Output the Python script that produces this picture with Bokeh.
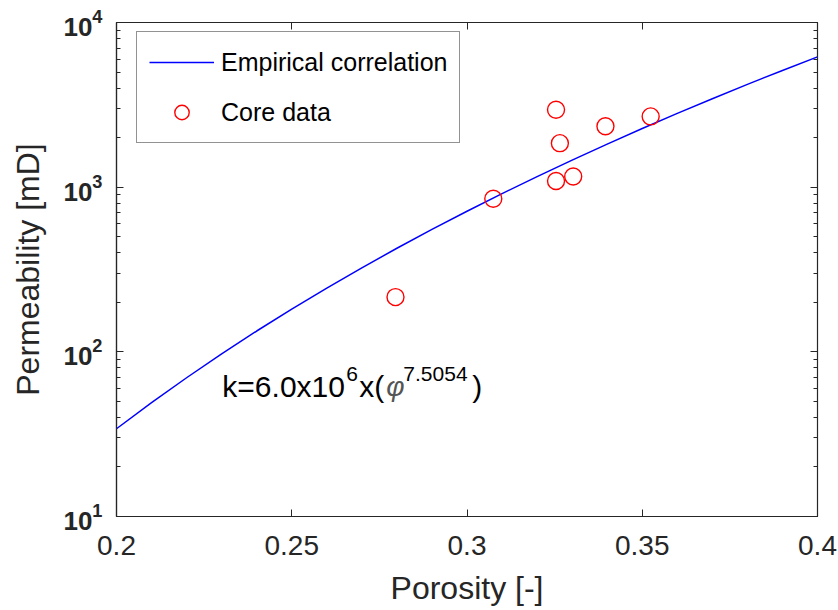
from bokeh.plotting import figure
from bokeh.models import (LinearAxis, LogAxis, FixedTicker, LogTicker, Range1d,
                          Legend, LegendItem, Label, ColumnDataSource, CustomJSTickFormatter)
from bokeh.embed import file_html
from bokeh.resources import INLINE

# Empirical correlation curve
curve_phi = [0.20, 0.21, 0.22, 0.23, 0.24, 0.25, 0.26, 0.27, 0.28, 0.29, 0.30,
             0.31, 0.32, 0.33, 0.34, 0.35, 0.36, 0.37, 0.38, 0.39, 0.40]
curve_k = [34.1, 49.1, 69.6, 97.2, 133.8, 181.7, 243.9, 323.8, 425.5, 553.6, 714.1,
           913.4, 1159, 1460, 1827, 2271, 2806, 3446, 4210, 5116, 6187]

# Core data
core_phi = [0.2796, 0.3075, 0.3254, 0.3265, 0.3254, 0.3303, 0.3395, 0.3524]
core_k = [215, 850, 2950, 1850, 1090, 1160, 2345, 2690]

x_ticks = [0.2, 0.25, 0.3, 0.35, 0.4]
x_tick_labels = ["0.2", "0.25", "0.3", "0.35", "0.4"]

FONT = "Liberation Sans"
TXT = "#262626"

p = figure(width=838, height=610, output_backend="svg", toolbar_location=None,
           x_range=Range1d(0.2, 0.4), y_range=Range1d(10, 10000),
           y_axis_type="log", min_border_left=116, min_border_right=21,
           min_border_top=22, min_border_bottom=94)
p.xgrid.visible = False
p.ygrid.visible = False
p.outline_line_color = TXT
p.outline_line_width = 1.2
p.background_fill_color = "white"
p.border_fill_color = "white"

xa = p.xaxis[0]
xa.ticker = FixedTicker(ticks=x_ticks)
xa.major_label_overrides = {t: l for t, l in zip(x_ticks, x_tick_labels)}
ya = p.yaxis[0]
ya.ticker = LogTicker(num_minor_ticks=10)
for ax in (xa, ya):
    ax.axis_line_color = TXT
    ax.axis_line_width = 1.2
    ax.major_tick_in = 7
    ax.major_tick_out = 0
    ax.minor_tick_in = 4
    ax.minor_tick_out = 0
    ax.major_tick_line_color = TXT
    ax.minor_tick_line_color = TXT
    ax.major_label_text_font = FONT
    ax.major_label_text_color = TXT
    ax.axis_label_text_font = FONT
    ax.axis_label_text_font_style = "normal"
    ax.axis_label_text_color = TXT
    ax.axis_label_text_font_size = "32px"
xa.minor_tick_in = 0
xa.major_label_text_font_size = "28px"
xa.major_label_standoff = 19
xa.axis_label = "Porosity [-]"
xa.axis_label_standoff = 12
ya.major_label_text_font_size = "26px"
ya.major_label_text_font_style = "bold"
ya.major_label_standoff = 14
ya.axis_label = "Permeability [mD]"
ya.axis_label_standoff = 14

# mirrored axes (ticks only, no labels)
blank = CustomJSTickFormatter(code="return ''")
top = LinearAxis(ticker=FixedTicker(ticks=x_ticks), formatter=blank,
                 major_tick_in=7, major_tick_out=0, minor_tick_in=0, minor_tick_out=0,
                 major_label_standoff=0, axis_line_color=TXT, major_tick_line_color=TXT)
right = LogAxis(ticker=LogTicker(num_minor_ticks=10), formatter=blank,
                major_tick_in=7, major_tick_out=0, minor_tick_in=4, minor_tick_out=0,
                major_label_standoff=0, axis_line_color=TXT, major_tick_line_color=TXT,
                minor_tick_line_color=TXT)
p.add_layout(top, "above")
p.add_layout(right, "right")

src_curve = ColumnDataSource(dict(x=curve_phi, y=curve_k))
src_core = ColumnDataSource(dict(x=core_phi, y=core_k))
r_line = p.line("x", "y", source=src_curve, line_color="#0000ff", line_width=1.5)
r_pts = p.scatter("x", "y", source=src_core, marker="circle", size=17,
                  fill_color=None, line_color="#ff0000", line_width=1.4)

legend = Legend(items=[LegendItem(label="Empirical correlation", renderers=[r_line]),
                       LegendItem(label="Core data", renderers=[r_pts])],
                location=(20, 373), padding=12, spacing=14, glyph_height=36,
                glyph_width=65, label_height=36, label_standoff=7, margin=0,
                label_text_font=FONT, label_text_font_size="25px", label_text_color="black",
                border_line_color=TXT, border_line_width=1.2,
                background_fill_color="white", background_fill_alpha=1.0)
p.add_layout(legend, "center")

# annotation k=6.0x10^6x(phi^7.5054)
ax0, ay0 = 0.2302, 62
parts = [("k=6.0x10", 0, 0, "30px", "normal", "black"),
         ("6", 124, 12, "21px", "normal", "black"),
         ("x(", 137, 0, "30px", "normal", "black"),
         ("\u03c6", 164, 0, "28px", "italic", "#555555"),
         ("7.5054", 181, 12, "21px", "normal", "black"),
         (")", 250, 0, "30px", "normal", "black")]
for t, dx, dy, fs, st, col in parts:
    p.add_layout(Label(x=ax0, y=ay0, text=t, x_offset=dx, y_offset=dy,
                       text_font=FONT, text_font_size=fs, text_font_style=st,
                       text_color=col, text_baseline="alphabetic", text_align="left"))

open("out.html", "w").write(file_html(p, INLINE))
